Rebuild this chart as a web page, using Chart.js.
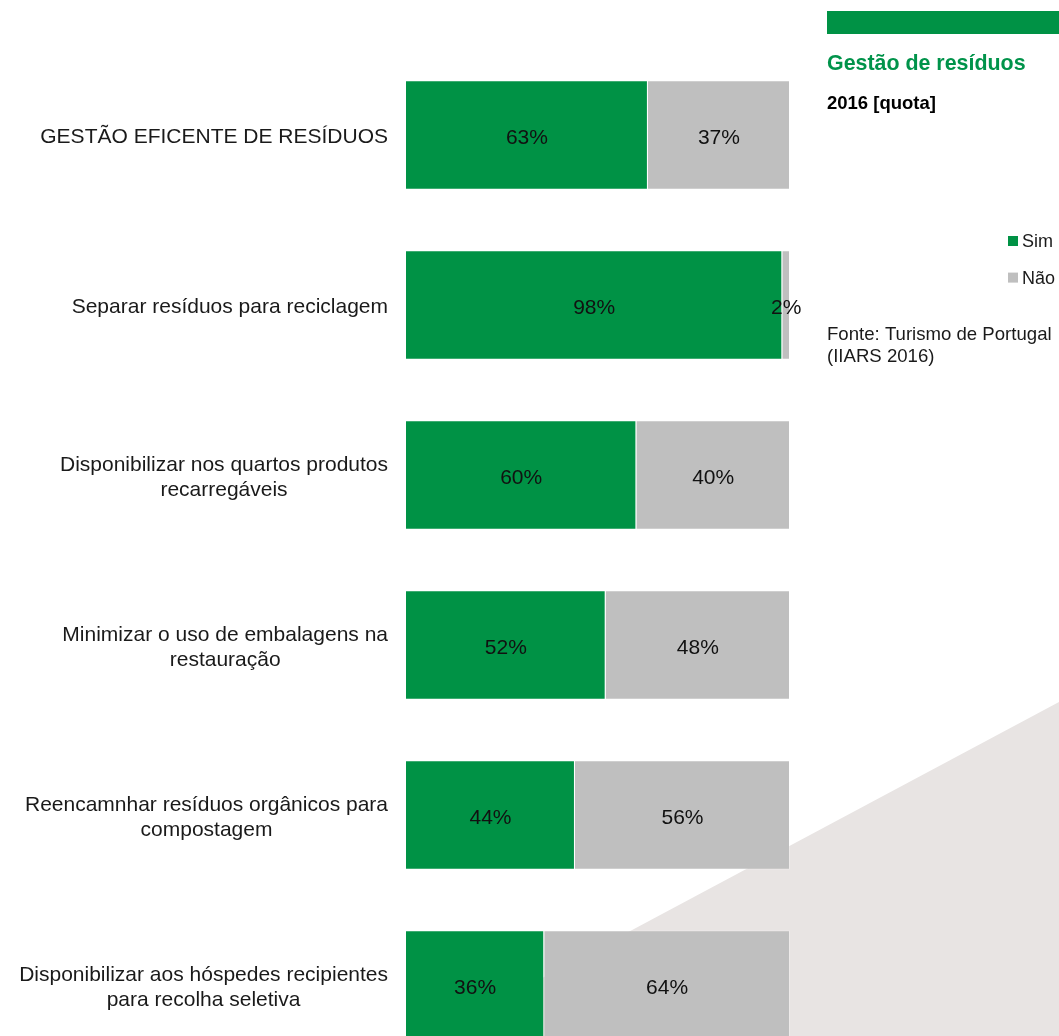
<!DOCTYPE html>
<html lang="pt">
<head>
<meta charset="utf-8">
<title>Gestão de resíduos</title>
<script src="https://cdn.jsdelivr.net/npm/chart.js@4/dist/chart.umd.min.js"></script>
<style>
  html, body { margin: 0; padding: 0; background: #fff; overflow: hidden; }
  #wrap { position: absolute; left: 0; top: 0; width: 1059px; height: 1070px; }
</style>
</head>
<body>
<div id="wrap"><canvas id="chart" width="1059" height="1070"></canvas></div>
<script>
// --- Dados ---
const categories = [
    'GESTÃO EFICENTE DE RESÍDUOS',
    'Separar resíduos para reciclagem',
    ['Disponibilizar nos quartos produtos', 'recarregáveis'],
    ['Minimizar o uso de embalagens na', 'restauração'],
    ['Reencamnhar resíduos orgânicos para', 'compostagem'],
    ['Disponibilizar aos hóspedes recipientes', 'para recolha seletiva']
];
const simValues = [63, 98, 60, 52, 44, 36];
const naoValues = [37, 2, 40, 48, 56, 64];

const FONT = "'Liberation Sans', Arial, sans-serif";
const GREEN = '#009245';
const GREY = '#bfbfbf';

// light diagonal panel behind the bottom-right corner
const backdrop = {
    id: 'backdrop',
    beforeDraw(chart) {
        const ctx = chart.ctx;
        ctx.save();
        ctx.fillStyle = '#e8e4e3';
        ctx.beginPath();
        ctx.moveTo(1059, 702);
        ctx.lineTo(1059, 1070);
        ctx.lineTo(370, 1070);
        ctx.closePath();
        ctx.fill();
        ctx.restore();
    }
};

// category labels: block right-aligned, lines centred on each other
const categoryLabels = {
    id: 'categoryLabels',
    afterDraw(chart) {
        const ctx = chart.ctx;
        const y = chart.scales.y;
        ctx.save();
        ctx.font = '21px ' + FONT;
        ctx.fillStyle = '#1a1a1a';
        ctx.textAlign = 'center';
        ctx.textBaseline = 'alphabetic';
        chart.data.labels.forEach((label, i) => {
            const lines = Array.isArray(label) ? label : [label];
            const maxW = Math.max(...lines.map(l => ctx.measureText(l).width));
            const cx = 388 - maxW / 2;
            const cy = y.getPixelForValue(i) + 8;
            const lh = 25;
            lines.forEach((l, k) => {
                ctx.fillText(l, cx, cy + (k - (lines.length - 1) / 2) * lh);
            });
        });
        ctx.restore();
    }
};

// value inside each segment
const segmentLabels = {
    id: 'segmentLabels',
    afterDatasetsDraw(chart) {
        const ctx = chart.ctx;
        ctx.save();
        ctx.font = '21px ' + FONT;
        ctx.fillStyle = '#111';
        ctx.textAlign = 'center';
        ctx.textBaseline = 'alphabetic';
        chart.data.datasets.forEach((ds, di) => {
            chart.getDatasetMeta(di).data.forEach((bar, i) => {
                const cx = (bar.x + bar.base) / 2;
                ctx.fillText(ds.data[i] + '%', cx, bar.y + 8.5);
            });
        });
        ctx.restore();
    }
};

// side panel: heading, legend and source
const sidePanel = {
    id: 'sidePanel',
    afterDraw(chart) {
        const ctx = chart.ctx;
        ctx.save();
        ctx.fillStyle = GREEN;
        ctx.fillRect(827, 11, 232, 23);

        ctx.textAlign = 'left';
        ctx.textBaseline = 'alphabetic';
        ctx.fillStyle = '#00934a';
        ctx.font = 'bold 21.4px ' + FONT;
        ctx.fillText('Gestão de resíduos', 827, 70);

        ctx.fillStyle = '#000';
        ctx.font = 'bold 18.5px ' + FONT;
        ctx.fillText('2016 [quota]', 827, 109);

        ctx.font = '18px ' + FONT;
        chart.data.datasets.forEach((ds, i) => {
            const top = 236 + i * 36.6;
            ctx.fillStyle = ds.backgroundColor;
            ctx.fillRect(1008, top, 10, 10);
            ctx.fillStyle = '#1a1a1a';
            ctx.fillText(ds.label, 1022, top + 11);
        });

        ctx.font = '18.6px ' + FONT;
        ctx.fillText('Fonte: Turismo de Portugal', 827, 340);
        ctx.fillText('(IIARS 2016)', 827, 362);
        ctx.restore();
    }
};

new Chart(document.getElementById('chart').getContext('2d'), {
    type: 'bar',
    data: {
        labels: categories,
        datasets: [
            { label: 'Sim', data: simValues, backgroundColor: GREEN, borderColor: 'rgba(255,255,255,0.25)', borderWidth: 1 },
            { label: 'Não', data: naoValues, backgroundColor: GREY, borderColor: 'rgba(255,255,255,0.25)', borderWidth: 1 }
        ]
    },
    options: {
        indexAxis: 'y',
        responsive: false,
        devicePixelRatio: 1,
        animation: false,
        layout: { padding: { left: 406, right: 269, top: 50, bottom: 0 } },
        datasets: { bar: { barPercentage: 0.643, categoryPercentage: 1 } },
        scales: {
            x: { display: false, stacked: true, min: 0, max: 100 },
            y: { display: false, stacked: true }
        },
        plugins: {
            legend: { display: false },
            tooltip: { enabled: false }
        }
    },
    plugins: [backdrop, categoryLabels, segmentLabels, sidePanel]
});
</script>
</body>
</html>
